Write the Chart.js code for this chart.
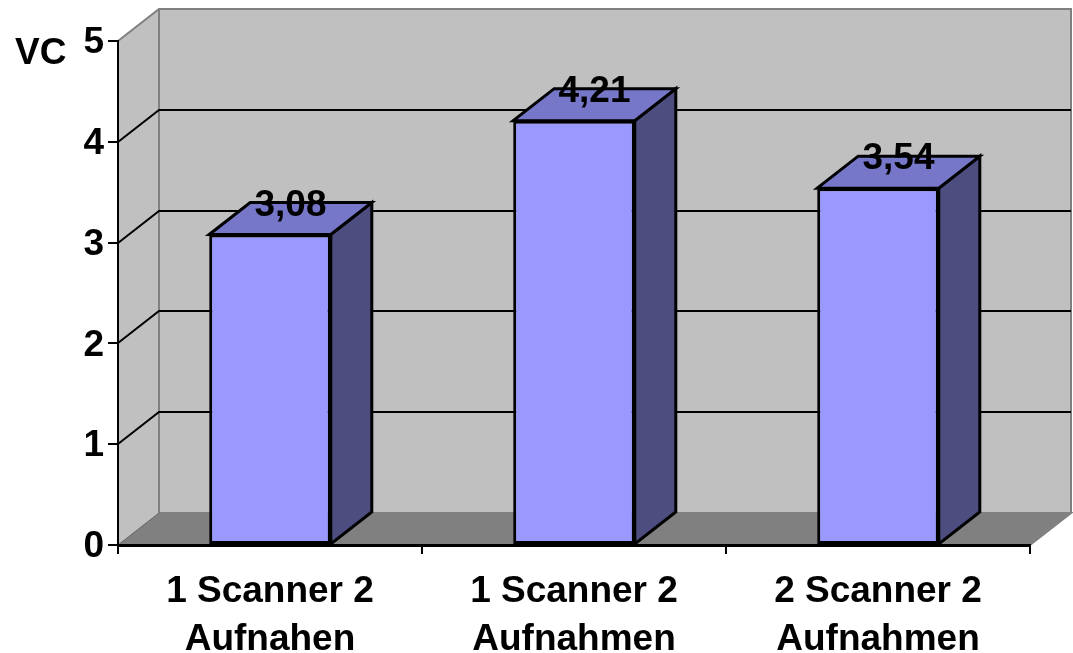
<!DOCTYPE html>
<html>
<head>
<meta charset="utf-8">
<script src="https://cdn.jsdelivr.net/npm/chart.js@4.4.1/dist/chart.umd.min.js"></script>
<style>
  html, body { margin: 0; padding: 0; background: #ffffff; }
  canvas { display: block; }
</style>
</head>
<body>
<canvas id="c" width="1073" height="653"></canvas>
<script>
// Categories (two-line axis labels), values and axis ticks
const categories = [
  ['1 Scanner 2', 'Aufnahen'],
  ['1 Scanner 2', 'Aufnahmen'],
  ['2 Scanner 2', 'Aufnahmen']
];
const vcValues = [3.08, 4.21, 3.54];
const yTicks = [0, 1, 2, 3, 4, 5];
const yTitle = 'VC';

// 3D depth of the plot box (pixels)
const DX = 41, DY = 32;
const FONT = "'Liberation Sans', Arial, sans-serif";
const fmt = v => v.toFixed(2).replace('.', ',');

function poly(ctx, pts, fill, stroke, lw) {
  ctx.beginPath();
  ctx.moveTo(pts[0][0], pts[0][1]);
  for (let i = 1; i < pts.length; i++) ctx.lineTo(pts[i][0], pts[i][1]);
  ctx.closePath();
  if (fill) { ctx.fillStyle = fill; ctx.fill(); }
  if (stroke) { ctx.strokeStyle = stroke; ctx.lineWidth = lw; ctx.lineJoin = 'miter'; ctx.stroke(); }
}

// Walls, floor and gridlines of the 3D box
const roomPlugin = {
  id: 'room',
  beforeDraw(chart) {
    const { ctx, chartArea: a, scales: { y } } = chart;
    const yMin = yTicks[0], yMax = yTicks[yTicks.length - 1];
    const L = a.left, R = a.right;
    const T = y.getPixelForValue(yMax), B = y.getPixelForValue(yMin);
    ctx.save();
    // back wall
    poly(ctx, [[L + DX, T - DY], [R + DX, T - DY], [R + DX, B - DY], [L + DX, B - DY]], '#c0c0c0');
    // left wall
    poly(ctx, [[L, T], [L + DX, T - DY], [L + DX, B - DY], [L, B]], '#c0c0c0');
    // floor
    poly(ctx, [[L, B], [L + DX, B - DY], [R + DX, B - DY], [R, B]], '#808080');

    // wall edges
    ctx.strokeStyle = '#808080';
    ctx.lineWidth = 2;
    ctx.beginPath();
    ctx.moveTo(L, T); ctx.lineTo(L + DX, T - DY); ctx.lineTo(R + DX, T - DY); ctx.lineTo(R + DX, B - DY);
    ctx.moveTo(L + DX, T - DY); ctx.lineTo(L + DX, B - DY); ctx.lineTo(R + DX, B - DY); ctx.lineTo(R, B);
    ctx.stroke();
    ctx.lineWidth = 1;
    ctx.strokeStyle = '#606060';
    ctx.beginPath();
    ctx.moveTo(L, B); ctx.lineTo(L + DX, B - DY);
    ctx.stroke();

    // gridlines across the left and back walls
    ctx.strokeStyle = '#000000';
    ctx.lineWidth = 2;
    yTicks.forEach(v => {
      if (v === yMin || v === yMax) return;
      const py = Math.round(y.getPixelForValue(v));
      ctx.beginPath();
      ctx.moveTo(L, py);
      ctx.lineTo(L + DX, py - DY);
      ctx.lineTo(R + DX, py - DY);
      ctx.stroke();
    });

    // axis title
    ctx.fillStyle = '#000000';
    ctx.font = 'bold 37px ' + FONT;
    ctx.textAlign = 'left';
    ctx.textBaseline = 'alphabetic';
    ctx.fillText(yTitle, 15, 64);
    ctx.restore();
  },
  // side and top faces of each bar
  beforeDatasetsDraw(chart) {
    const { ctx } = chart;
    const meta = chart.getDatasetMeta(0);
    ctx.save();
    meta.data.forEach(bar => {
      const l = bar.x - bar.width / 2, r = bar.x + bar.width / 2;
      const t = bar.y, b = bar.base;
      poly(ctx, [[r, t], [r + DX, t - DY], [r + DX, b - DY], [r, b]], '#4d4d80', '#000000', 3);
      poly(ctx, [[l, t], [l + DX, t - DY], [r + DX, t - DY], [r, t]], '#7777c9', '#000000', 3);
    });
    ctx.restore();
  },
  // value labels above the bars
  afterDatasetsDraw(chart) {
    const { ctx } = chart;
    const meta = chart.getDatasetMeta(0);
    ctx.save();
    ctx.fillStyle = '#000000';
    ctx.font = 'bold 37px ' + FONT;
    ctx.textAlign = 'center';
    ctx.textBaseline = 'alphabetic';
    meta.data.forEach((bar, i) => {
      ctx.fillText(fmt(vcValues[i]), bar.x + DX / 2, bar.y - DY + 13);
    });
    ctx.restore();
  }
};

new Chart(document.getElementById('c'), {
  type: 'bar',
  plugins: [roomPlugin],
  data: {
    labels: categories,
    datasets: [{
      data: vcValues,
      backgroundColor: '#9999ff',
      borderColor: '#000000',
      borderWidth: 3,
      borderSkipped: false,
      barPercentage: 0.4,
      categoryPercentage: 1.0
    }]
  },
  options: {
    responsive: false,
    devicePixelRatio: 1,
    animation: false,
    layout: { padding: { top: 41, right: 43, left: 0, bottom: 0 } },
    plugins: { legend: { display: false }, tooltip: { enabled: false } },
    scales: {
      x: {
        offset: true,
        afterFit(scale) { scale.height = 108; },
        grid: {
          offset: true,
          drawOnChartArea: false,
          drawTicks: true,
          tickLength: 9,
          color: '#000000',
          lineWidth: 2
        },
        border: { display: true, color: '#000000', width: 3 },
        ticks: {
          color: '#000000',
          padding: 14,
          maxRotation: 0,
          autoSkip: false,
          font: { family: FONT, size: 37, weight: 'bold', lineHeight: 1.3 }
        }
      },
      y: {
        min: yTicks[0],
        max: yTicks[yTicks.length - 1],
        afterFit(scale) { scale.width = 118; },
        afterBuildTicks(scale) { scale.ticks = yTicks.map(v => ({ value: v })); },
        grid: {
          drawOnChartArea: false,
          drawTicks: true,
          tickLength: 10,
          color: '#000000',
          lineWidth: 2
        },
        border: { display: true, color: '#000000', width: 2 },
        ticks: {
          color: '#000000',
          padding: 4,
          labelOffset: 2,
          font: { family: FONT, size: 37, weight: 'bold' }
        }
      }
    }
  }
});
</script>
</body>
</html>
